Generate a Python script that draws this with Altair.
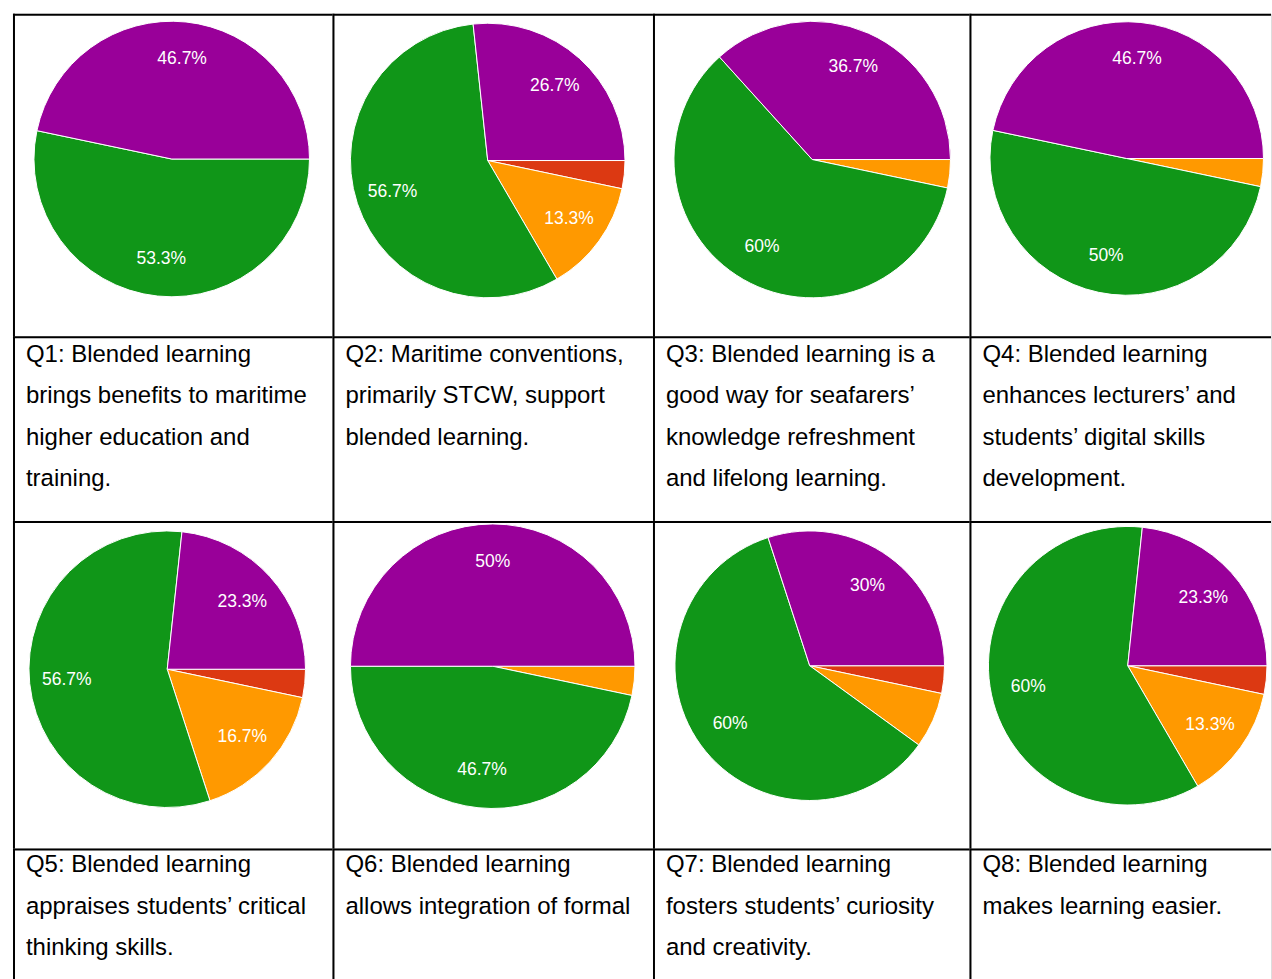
import math
import altair as alt
import pandas as pd

# ---------------- data ----------------
questions = ["Q1", "Q2", "Q3", "Q4", "Q5", "Q6", "Q7", "Q8"]
categories = ["Disagree", "Neutral", "Agree", "Strongly agree"]
cat_colors = ["#dc3912", "#ff9900", "#109618", "#990099"]

disagree = [0, 3.3, 0, 0, 3.3, 0, 3.3, 3.3]
neutral = [0, 13.3, 3.3, 3.3, 16.7, 3.3, 6.7, 13.3]
agree = [53.3, 56.7, 60, 50, 56.7, 46.7, 60, 60]
strongly_agree = [46.7, 26.7, 36.7, 46.7, 23.3, 50, 30, 23.3]

captions = [
    ["Q1: Blended learning", "brings benefits to maritime", "higher education and", "training."],
    ["Q2: Maritime conventions,", "primarily STCW, support", "blended learning."],
    ["Q3: Blended learning is a", "good way for seafarers\u2019", "knowledge refreshment", "and lifelong learning."],
    ["Q4: Blended learning", "enhances lecturers\u2019 and", "students\u2019 digital skills", "development."],
    ["Q5: Blended learning", "appraises students\u2019 critical", "thinking skills."],
    ["Q6: Blended learning", "allows integration of formal"],
    ["Q7: Blended learning", "fosters students\u2019 curiosity", "and creativity."],
    ["Q8: Blended learning", "makes learning easier."],
]

# ---------------- layout (not data) ----------------
col_widths = [320, 321, 317, 302]
pie_heights = [323, 328]
cap_heights = [185, 131]
cap_y0 = [25.5, 24]
# pie centre (x, y) inside its cell and outer radius
pie_geom = [
    (159, 145.5, 138), (155.5, 147, 137.5), (159.5, 146, 138.5), (157.5, 145, 137),
    (154.5, 148.5, 138.5), (160.5, 145.5, 142.5), (157, 145, 135), (158.5, 145, 139.5),
]
FONT = "Liberation Sans"


def borders(w, h):
    b = alt.Chart(pd.DataFrame({"edge": [0]}))
    top = b.mark_rect(color="black").encode(
        x=alt.value(0), x2=alt.value(w), y=alt.value(0), y2=alt.value(2)
    )
    left = b.mark_rect(color="black").encode(
        x=alt.value(0), x2=alt.value(2), y=alt.value(0), y2=alt.value(h)
    )
    return [top, left]


def pie_df(i):
    rows = []
    series = [disagree, neutral, agree, strongly_agree]
    for rank, (cat, vals) in enumerate(zip(categories, series)):
        if vals[i] > 0:
            rows.append({"question": questions[i], "answer": cat, "rank": rank, "pct": vals[i]})
    return pd.DataFrame(rows)


def pie_cell(i, w, h):
    cx, cy, r = pie_geom[i]
    base = alt.Chart(pie_df(i)).encode(
        theta=alt.Theta(
            "pct:Q", stack=True,
            scale=alt.Scale(range=[math.pi / 2, math.pi / 2 + 2 * math.pi]),
        ),
        order=alt.Order("rank:Q", sort="ascending"),
    )
    arcs = base.mark_arc(x=cx, y=cy, outerRadius=r, stroke="white", strokeWidth=1).encode(
        color=alt.Color("answer:N", scale=alt.Scale(domain=categories, range=cat_colors), legend=None)
    )
    labels = base.transform_calculate(
        label="datum.pct >= 10 ? format(datum.pct, '.1~f') + '%' : ''"
    ).mark_text(
        x=cx, y=cy, radius=r * 0.73, color="white", fontSize=17.5, font=FONT,
        align="center", baseline="middle",
    ).encode(text="label:N")
    return alt.layer(arcs, labels, *borders(w, h)).properties(width=w, height=h)


def caption_cell(i, w, h, y0):
    txt = alt.Chart(pd.DataFrame({"caption": ["\n".join(captions[i])]})).mark_text(
        x=13, y=y0, align="left", baseline="alphabetic", lineBreak="\n",
        lineHeight=41.5, fontSize=24, font=FONT, color="black",
    ).encode(text="caption:N")
    return alt.layer(txt, *borders(w, h)).properties(width=w, height=h)


cells = []
for rr in range(2):
    cells += [pie_cell(rr * 4 + c, col_widths[c], pie_heights[rr]) for c in range(4)]
    cells += [caption_cell(rr * 4 + c, col_widths[c], cap_heights[rr], cap_y0[rr]) for c in range(4)]

chart = alt.concat(*cells, columns=4, spacing=0, bounds="flush").properties(
    padding={"left": 12, "top": 12, "right": 0, "bottom": 0}
).configure_view(stroke="transparent").configure(background="white")

chart.save("out.html", embed_options={"renderer": "svg", "actions": False})
